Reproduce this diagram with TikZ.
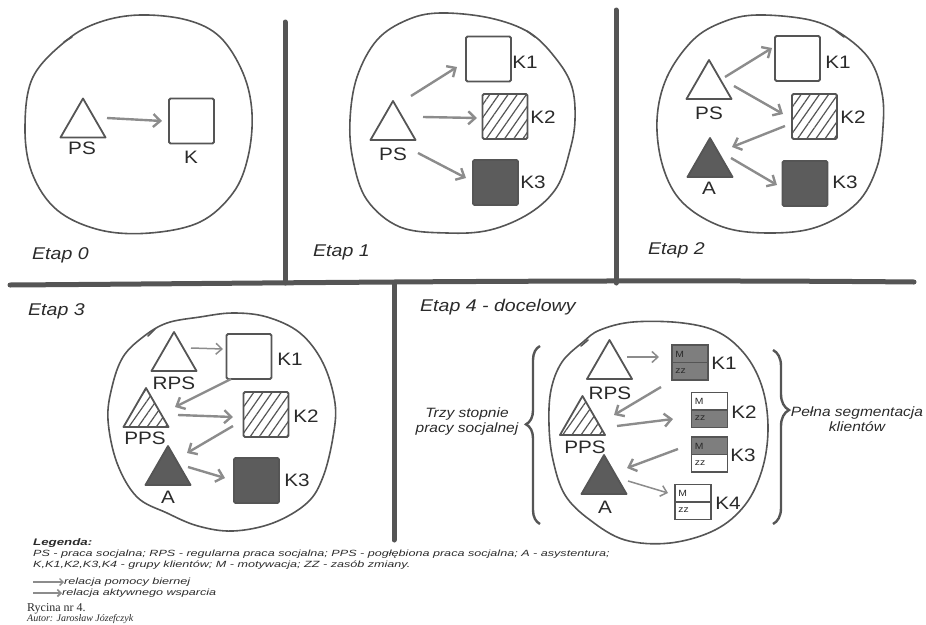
\documentclass[tikz,border=0pt]{standalone}
\usepackage{fontspec}
\setmainfont{Liberation Sans}
\newfontfamily\hand[FakeStretch=1.15]{Liberation Sans}
\newfontfamily\legfont[FakeStretch=1.4]{Liberation Sans}
\newfontfamily\printfont{Liberation Serif}
\usetikzlibrary{arrows.meta,shapes.geometric,patterns.meta,decorations.pathreplacing}

\definecolor{ink}{HTML}{555555}
\definecolor{txt}{HTML}{2A2A2A}
\definecolor{arrowgrey}{HTML}{8C8C8C}
\definecolor{darkfill}{HTML}{5C5C5C}
\definecolor{midfill}{HTML}{7E7E7E}

\tikzset{
  blob/.style={draw=ink, line width=1.6pt, line join=round},
  divider/.style={draw=ink, line width=5pt, line cap=round},
  sq/.style={draw=ink, line width=1.8pt, rounded corners=1.5pt, minimum size=45pt, inner sep=0pt},
  tri/.style={regular polygon, regular polygon sides=3, draw=ink, line width=1.8pt,
    minimum size=52pt, inner sep=0pt, line join=round},
  hatchfill/.style={pattern={Lines[angle=55,distance=7.5pt,line width=1.2pt]}, pattern color=ink},
  darkfilled/.style={fill=darkfill},
  mzbox/.style 2 args={draw=ink, line width=1.6pt, minimum width=36pt, minimum height=35pt,
    inner sep=0pt,
    path picture={
      \fill[#1] (path picture bounding box.north west) rectangle (path picture bounding box.east);
      \fill[#2] (path picture bounding box.west) rectangle (path picture bounding box.south east);
      \draw[ink, line width=1.2pt] (path picture bounding box.west) -- (path picture bounding box.east);
    }},
  mz/.style={font=\hand\fontsize{9}{9}\selectfont, text=txt, anchor=west, inner sep=0pt},
  lab/.style={font=\hand\fontsize{18}{18}\selectfont, text=txt, inner sep=0pt},
  stage/.style={font=\hand\itshape\fontsize{17}{17}\selectfont, text=txt, anchor=west, inner sep=0pt},
  side/.style={font=\hand\itshape\fontsize{13.5}{15}\selectfont, text=txt, align=center, inner sep=0pt},
  legt/.style={font=\legfont\itshape\fontsize{9}{9}\selectfont, text=txt, anchor=west, inner sep=0pt},
  thinarr/.style={draw=arrowgrey, line width=1.5pt, -{Straight Barb[length=6pt,width=11pt]}},
  thickarr/.style={draw=arrowgrey, line width=2.4pt, -{Straight Barb[length=7pt,width=13pt]}},
  legarr/.style={draw=arrowgrey, line width=1.3pt, -{Straight Barb[length=3.5pt,width=7pt]}},
  curly/.style={draw=ink, line width=2.4pt, decorate},
  tick/.style={draw=ink, line width=1.6pt, line cap=round},
}

\begin{document}
\begin{tikzpicture}[x=1pt, y=-1pt]
\useasboundingbox (0,0) rectangle (926,624);

% ---------- panel dividers ----------
\draw[divider] (10,285) .. controls (300,283) and (600,279) .. (914,282);
\draw[divider] (285,22) -- (285,283);
\draw[divider] (616,10) -- (616,283);
\draw[divider] (394,284) -- (394,540);

% ---------- Etap 0 ----------
\draw[blob] plot[smooth cycle, tension=0.6] coordinates
  {(140,15) (187,20) (220,37) (243,73) (252,113) (248,157) (233,193) (200,222)
   (150,233) (100,230) (57,210) (32,173) (25,127) (33,77) (67,40) (100,22)};
\draw[tick] (64,42) -- (72,37);
\node[tri] (ps0) at (83,124.5) {};
\node[sq] (k0) at (191.5,121) {};
\node[lab] (ps0l) at (82,148) {PS};
\node[lab] (k0l) at (191,157) {K};
\draw[thickarr] ([shift={(24,-6.5)}]ps0.center) -- ([shift={(-29.5,0)}]k0.center);
\node[stage] (e0) at (32,255) {Etap 0};

% ---------- Etap 1 ----------
\draw[blob] plot[smooth cycle, tension=0.6] coordinates
  {(440,13) (490,18) (530,33) (557,60) (572,87) (575,120) (570,150) (557,187)
   (530,213) (490,230) (447,233) (400,227) (367,200) (353,160) (350,120) (357,77)
   (377,40) (407,20)};
\draw[tick] (527,31) -- (535,37);
\node[tri] (ps1) at (393,127) {};
\node[sq] (k11) at (488.5,59) {};
\node[sq, hatchfill] (k12) at (505,116.5) {};
\node[sq, darkfilled] (k13) at (495.5,182.5) {};
\node[lab] (ps1l) at (393,154) {PS};
\node[lab] (k11l) at (525,62) {K1};
\node[lab] (k12l) at (543,117) {K2};
\node[lab] (k13l) at (533,182) {K3};
\draw[thickarr] ([shift={(18,-31)}]ps1.center) -- ([shift={(-31.5,8)}]k11.center);
\draw[thickarr] ([shift={(30,-10)}]ps1.center) -- ([shift={(-28,1.5)}]k12.center);
\draw[thickarr] ([shift={(25,26)}]ps1.center) -- ([shift={(-29.5,-4.5)}]k13.center);
\node[stage] (e1) at (313,252) {Etap 1};

% ---------- Etap 2 ----------
\draw[blob] plot[smooth cycle, tension=0.6] coordinates
  {(757,15) (810,20) (843,35) (870,60) (882,93) (883,127) (877,167) (857,203)
   (817,227) (770,233) (723,227) (683,203) (663,167) (657,120) (667,77) (693,40)
   (723,22)};
\draw[tick] (836,31) -- (844,37);
\node[tri] (ps2) at (709,86) {};
\node[tri, darkfilled] (a2) at (710,164) {};
\node[sq] (k21) at (797.5,58.5) {};
\node[sq, hatchfill] (k22) at (814.5,116.5) {};
\node[sq, darkfilled] (k23) at (805,183.5) {};
\node[lab] (ps2l) at (709,113) {PS};
\node[lab] (a2l) at (709,188) {A};
\node[lab] (k21l) at (838,62) {K1};
\node[lab] (k22l) at (853,117) {K2};
\node[lab] (k23l) at (845,182) {K3};
\draw[thickarr] ([shift={(16,-9)}]ps2.center) -- ([shift={(-25.5,-10.5)}]k21.center);
\draw[thickarr] ([shift={(25,0)}]ps2.center) -- ([shift={(-31.5,-2.5)}]k22.center);
\draw[thickarr] ([shift={(-29.5,9.5)}]k22.center) -- ([shift={(22,-17)}]a2.center);
\draw[thickarr] ([shift={(21,-6)}]a2.center) -- ([shift={(-28,1.5)}]k23.center);
\node[stage] (e2) at (648,250) {Etap 2};

% ---------- Etap 3 ----------
\node[stage] (e3) at (28,311) {Etap 3};
\draw[blob] plot[smooth cycle, tension=0.6] coordinates
  {(200,317) (233,313) (267,317) (300,333) (323,363) (335,403) (333,437) (323,477)
   (307,503) (273,523) (233,531) (198,526) (167,513) (137,497) (117,463) (108,420)
   (112,387) (123,357) (143,337) (167,323)};
\draw[tick] (148,336) -- (155,329);
\node[tri] (rps3) at (174,358) {};
\node[tri, hatchfill] (pps3) at (146,414) {};
\node[tri, darkfilled] (a3) at (168,472) {};
\node[sq] (k31) at (249,356.5) {};
\node[sq, hatchfill] (k32) at (266,414.5) {};
\node[sq, darkfilled] (k33) at (256.5,480.5) {};
\node[lab] (rps3l) at (174,383) {RPS};
\node[lab] (pps3l) at (145,438) {PPS};
\node[lab] (a3l) at (168,497) {A};
\node[lab] (k31l) at (290,359) {K1};
\node[lab] (k32l) at (306,416) {K2};
\node[lab] (k33l) at (297,480) {K3};
\draw[thinarr] ([shift={(17,-10)}]rps3.center) -- ([shift={(-26,-7.5)}]k31.center);
\draw[thickarr] ([shift={(-18,22.5)}]k31.center) -- ([shift={(29,-7)}]pps3.center);
\draw[thickarr] ([shift={(32,1)}]pps3.center) -- ([shift={(-33,2.5)}]k32.center);
\draw[thickarr] ([shift={(-33,11.5)}]k32.center) -- ([shift={(19,-19)}]a3.center);
\draw[thickarr] ([shift={(20,-5)}]a3.center) -- ([shift={(-31.5,-2.5)}]k33.center);

% ---------- Etap 4 ----------
\node[stage] (e4) at (420,307) {Etap 4 - docelowy};
\draw[blob] plot[smooth cycle, tension=0.6] coordinates
  {(600,330) (633,322) (683,323) (720,333) (747,357) (763,390) (768,430) (762,470)
   (745,505) (715,530) (670,543) (625,540) (590,520) (565,495) (553,460) (549,425)
   (551,390) (562,362) (583,342)};
\draw[tick] (581,346) -- (588,340);
\node[tri] (rps4) at (609.5,366) {};
\node[tri, hatchfill] (pps4) at (582.5,422) {};
\node[tri, darkfilled] (a4) at (604,481) {};
\node[mzbox={midfill}{midfill}] (k41) at (690,362.5) {};
\node[mzbox={white}{midfill}] (k42) at (709.5,410) {};
\node[mzbox={midfill}{white}] (k43) at (709.5,454.5) {};
\node[mzbox={white}{white}] (k44) at (693,502) {};
\foreach \b in {k41,k42,k43,k44}{
  \node[mz] (\b m) at ([shift={(4,-8.5)}]\b.west) {M};
  \node[mz] (\b z) at ([shift={(4,8.5)}]\b.west) {zz};
}
\node[lab] (rps4l) at (610,393) {RPS};
\node[lab] (pps4l) at (585,447) {PPS};
\node[lab] (a4l) at (605,507) {A};
\node[lab] (k41l) at (724,363) {K1};
\node[lab] (k42l) at (744,412) {K2};
\node[lab] (k43l) at (743,455) {K3};
\node[lab] (k44l) at (728,503) {K4};
\draw[thinarr] ([shift={(17.5,-9)}]rps4.center) -- ([shift={(-31,-5.5)}]k41.center);
\draw[thickarr] ([shift={(-29,24.5)}]k41.center) -- ([shift={(31.5,-7)}]pps4.center);
\draw[thickarr] ([shift={(34.5,4)}]pps4.center) -- ([shift={(-36.5,9)}]k42.center);
\draw[thickarr] ([shift={(-31.5,-5.5)}]k43.center) -- ([shift={(23,-13)}]a4.center);
\draw[thinarr] ([shift={(24,0)}]a4.center) -- ([shift={(-25,-9)}]k44.center);

% side braces and their captions
\draw[curly, decoration={brace, amplitude=14pt, aspect=0.56}] (540,524) -- (540,346);
\draw[curly, decoration={brace, amplitude=16pt, aspect=0.345}] (773,350) -- (773,524);
\node[side] (trzy) at (467,422) {Trzy stopnie\\pracy socjalnej};
\node[side] (pelna) at (857,419) {Pełna segmentacja\\klientów};

% ---------- legend ----------
\node[legt, font=\legfont\itshape\bfseries\fontsize{9.5}{9.5}\selectfont] (legh) at (33,543) {Legenda:};
\node[legt] (leg1) at (33,554) {PS - praca socjalna; RPS - regularna praca socjalna; PPS - pogłębiona praca socjalna; A - asystentura;};
\node[legt] (leg2) at (33,565) {K,K1,K2,K3,K4 - grupy klientów; M - motywacja; ZZ - zasób zmiany.};
\coordinate (la) at (33,582);
\coordinate (lb) at (33,593);
\node[legt] (rel1) at (64,582) {relacja pomocy biernej};
\node[legt] (rel2) at (62,593) {relacja aktywnego wsparcia};
\draw[legarr] (la) -- (rel1.west);
\draw[legarr, line width=1.6pt] (lb) -- (rel2.west);
\node[anchor=west, inner sep=0pt, text=txt, font=\printfont\fontsize{12}{12}\selectfont] (ryc) at (27,609) {Rycina nr 4.};
\node[anchor=west, inner sep=0pt, text=txt, font=\printfont\itshape\fontsize{10}{10}\selectfont] (aut) at (27,619) {Autor: Jarosław Józefczyk};
\end{tikzpicture}
\end{document}
